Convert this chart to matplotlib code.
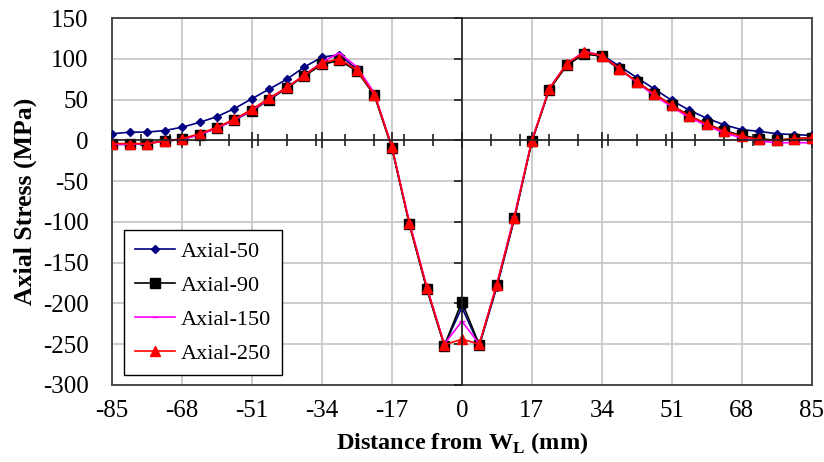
import numpy as np
import matplotlib
matplotlib.use('Agg')
import matplotlib.pyplot as plt

plt.rcParams['font.family'] = 'Liberation Serif'
plt.rcParams['mathtext.fontset'] = 'custom'
plt.rcParams['mathtext.rm'] = 'Liberation Serif'
plt.rcParams['mathtext.bf'] = 'Liberation Serif:bold'
plt.rcParams['axes.unicode_minus'] = False

# distance from weld line (mm), one point every 4.25 mm
dist = np.linspace(-85, 85, 41)

axial_50 = [8, 10, 10, 12, 16, 22, 29, 39, 51, 63, 75, 90, 102, 105, 87, 56, -8,
            -103, -182, -252, -205, -252, -180, -97, -2, 63, 93, 108, 105, 91, 77,
            63, 49, 37, 27, 19, 13, 11, 8, 7, 6]
axial_90 = [-5, -5, -4, -1, 1, 7, 15, 25, 36, 50, 64, 79, 93, 98, 85, 55, -10,
            -103, -183, -252, -198, -251, -178, -95, -1, 62, 92, 106, 103, 87, 72,
            57, 43, 30, 20, 12, 6, 2, 0, 2, 3]
axial_150 = [-5, -5, -4, -1, 1, 7, 15, 25, 37, 51, 65, 80, 96, 107, 90, 58, -8,
             -100, -180, -250, -222, -250, -176, -93, 0, 64, 94, 109, 104, 88, 71,
             55, 41, 28, 18, 9, 3, -1, -3, -3, -3]
axial_250 = [-4, -4, -4, -1, 2, 8, 16, 26, 38, 52, 65, 80, 95, 100, 86, 56, -8,
             -102, -181, -251, -244, -250, -177, -95, -1, 63, 94, 108, 104, 88, 72,
             57, 43, 30, 20, 11, 5, 1, 0, 2, 3]

x_ticks = np.arange(-85, 86, 17)
y_ticks = np.arange(-300, 151, 50)

fig = plt.figure(figsize=(8.24, 4.62), dpi=100)
pos = [0.136, 0.167, 0.849, 0.794]

# background axes: frame, grid, tick labels
ax = fig.add_axes(pos)
ax.set_xlim(-85, 85)
ax.set_ylim(-300, 150)
ax.set_xticks(x_ticks)
ax.set_yticks(y_ticks)
ax.grid(True, color='#c8c8c8', lw=1.3)
ax.tick_params(length=0, labelsize=18)
ax.tick_params(axis='y', pad=17)
ax.tick_params(axis='x', pad=11)
for s in ax.spines.values():
    s.set_color('#404040')
    s.set_linewidth(1.3)
ax.set_xlabel(r'Distance from W$_{\mathbf{L}}$ (mm)', fontsize=17.5, fontweight='bold', labelpad=6)
ax.set_ylabel('Axial Stress (MPa)', fontsize=18.5, fontweight='bold', labelpad=4)

# overlay axes: axis lines crossing at zero + data
ax2 = fig.add_axes(pos, facecolor='none')
ax2.set_xlim(-85, 85)
ax2.set_ylim(-300, 150)
ax2.spines['left'].set_position(('data', 0))
ax2.spines['bottom'].set_position(('data', 0))
ax2.spines['top'].set_visible(False)
ax2.spines['right'].set_visible(False)
for s in ['left', 'bottom']:
    ax2.spines[s].set_color('#202020')
    ax2.spines[s].set_linewidth(1.2)
ax2.set_xticks(x_ticks)
ax2.set_xticks(np.linspace(-85, 85, 25), minor=True)
ax2.set_yticks(y_ticks)
ax2.tick_params(axis='x', which='major', direction='inout', length=11, width=1.2,
                labelbottom=False, color='#202020')
ax2.tick_params(axis='x', which='minor', direction='inout', length=8, width=1.2,
                color='#202020')
ax2.tick_params(axis='y', direction='out', length=6, width=1.2, labelleft=False,
                color='#202020')

ax2.plot(dist, axial_50, '-', color='#000080', lw=1.2, marker='D', ms=4.5, label='Axial-50')
ax2.plot(dist, axial_90, '-', color='black', lw=1.2, marker='s', ms=7, label='Axial-90')
ax2.plot(dist, axial_150, '-', color='#ff00ff', lw=1.2, marker='_', ms=5, label='Axial-150')
ax2.plot(dist, axial_250, '-', color='#ff0000', lw=1.2, marker='^', ms=6.5, label='Axial-250')

leg = ax2.legend(loc='lower left', bbox_to_anchor=(0.017, 0.027), borderaxespad=0,
                 fontsize=16, frameon=True, fancybox=False, framealpha=1,
                 edgecolor='black', handlelength=1.8, labelspacing=0.6,
                 borderpad=0.5, handletextpad=0.25)
leg.get_frame().set_linewidth(1.0)

plt.savefig('out.png', dpi=100)
